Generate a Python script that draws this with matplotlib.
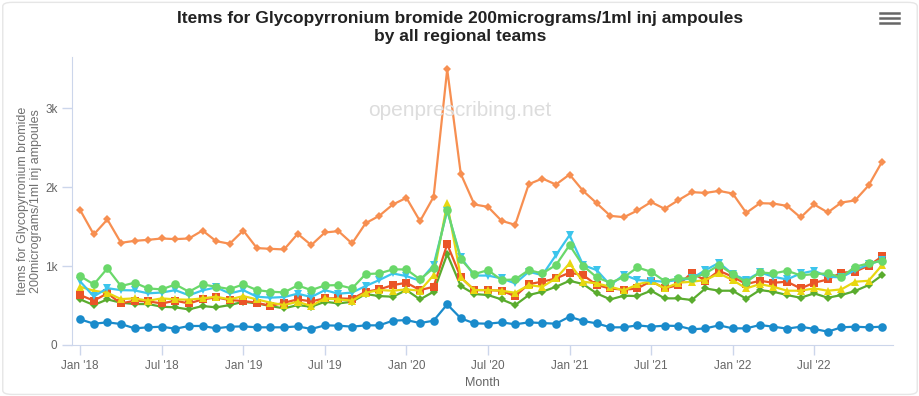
import matplotlib.pyplot as plt
from matplotlib.patches import FancyBboxPatch
import numpy as np

plt.rcParams['font.family'] = ['Liberation Sans', 'DejaVu Sans']

# monthly items, Jan 2018 .. Dec 2022
months = np.arange(60)
tick_pos = np.arange(0, 60, 6)
tick_labels = ["Jan '18", "Jul '18", "Jan '19", "Jul '19", "Jan '20", "Jul '20",
               "Jan '21", "Jul '21", "Jan '22", "Jul '22"]

orange = [1709, 1401, 1591, 1295, 1320, 1333, 1350, 1342, 1350, 1451, 1316, 1283, 1451, 1228, 1219,
          1211, 1409, 1266, 1426, 1443, 1287,
          1544, 1637, 1781, 1865, 1570, 1877, 3494, 2169, 1781, 1751, 1574, 1523, 2038, 2110, 2034,
          2161, 1953, 1797, 1637,
          1620, 1705, 1812, 1726, 1835, 1937, 1928, 1953, 1920, 1675, 1797, 1793, 1763, 1616, 1781,
          1680, 1806, 1832, 2022, 2325]
light_green = [873, 768, 971, 747, 789, 717, 705, 768, 675, 768, 738, 709, 768, 696, 675, 667, 755,
               696, 755, 759, 717,
               899, 907, 958, 958, 831, 975, 1717, 1085, 899, 949, 823, 831, 949, 907, 1013, 1266,
               1004, 857, 789,
               860, 983, 928, 810, 844, 844, 907, 1013, 899, 797, 920, 907, 941, 882, 899, 907, 857,
               992, 1034, 1067]
cyan = [805, 615, 720, 695, 692, 655, 665, 695, 630, 692, 730, 654, 695, 612, 600, 608, 650, 608,
        695, 650, 665,
        747, 823, 907, 873, 814, 1013, 1700, 1110, 880, 880, 844, 781, 928, 886, 1139, 1392, 1013,
        949, 759,
        890, 823, 814, 802, 823, 844, 949, 1042, 899, 823, 920, 865, 831, 907, 941, 865, 857, 949,
        1021, 1076]
yellow = [738, 688, 662, 582, 591, 561, 591, 578, 574, 591, 612, 578, 620, 578, 536, 506, 548, 494,
          591, 578, 561,
          662, 696, 688, 705, 688, 886, 1794, 857, 696, 696, 688, 662, 759, 738, 844, 1034, 802,
          781, 738,
          692, 768, 810, 717, 789, 802, 823, 907, 823, 717, 772, 738, 688, 688, 717, 688, 705, 802,
          814, 1013]
red = [633, 561, 654, 527, 561, 553, 527, 561, 527, 578, 603, 570, 557, 536, 494, 536, 578, 553, 591,
       591, 585,
       675, 705, 759, 789, 696, 738, 1278, 857, 696, 696, 688, 620, 772, 802, 844, 916, 886, 759, 717,
       700, 717, 810, 717, 759, 916, 814, 941, 865, 772, 814, 789, 802, 717, 789, 831, 916, 930, 1005,
       1122]
dark_green = [578, 506, 578, 536, 519, 519, 485, 477, 451, 494, 477, 506, 548, 527, 494, 464, 506,
              485, 548, 527, 548,
              646, 620, 612, 696, 578, 675, 1152, 747, 646, 633, 578, 506, 633, 675, 738, 814, 772,
              654, 578,
              625, 620, 688, 591, 591, 570, 717, 688, 688, 586, 696, 675, 633, 599, 654, 599, 633,
              684, 759, 886]
blue = [325, 270, 287, 266, 211, 224, 232, 206, 241, 241, 211, 232, 236, 224, 224, 224, 236, 203, 249,
        245, 232,
        249, 249, 308, 316, 278, 308, 515, 338, 274, 270, 287, 262, 287, 278, 270, 359, 304, 274, 224,
        224, 249, 232, 245, 241, 198, 211, 249, 211, 211, 253, 232, 207, 232, 203, 169, 224, 232, 224,
        232]

fig = plt.figure(figsize=(9.2, 3.96), dpi=100)
ax = fig.add_axes([0.0783, 0.1288, 0.8924, 0.7272])

# light frame round the chart
fig.patches.append(FancyBboxPatch((0.003, 0.004), 0.994, 0.99, boxstyle='round,pad=0,rounding_size=0.01',
                                  transform=fig.transFigure, fill=False, ec='#e6e6e6', lw=1))

series = [
    (blue, '#1a8bcb', 'o', 6.2),
    (dark_green, '#5aac2e', 'D', 4.2),
    (red, '#ea5427', 's', 5.6),
    (yellow, '#e8d710', '^', 6.2),
    (cyan, '#3cc5ec', 'v', 6.2),
    (light_green, '#6ad86a', 'o', 6.2),
    (orange, '#f78f51', 'D', 4.2),
]
for vals, col, mk, ms in series:
    ax.plot(months, vals, color=col, lw=1.6, marker=mk, ms=ms, mec=col, mew=0)

ax.set_xlim(-0.6, 59.8)
ax.set_ylim(0, 3650)
ax.set_yticks([0, 1000, 2000, 3000])
ax.set_yticklabels(['0', '1k', '2k', '3k'])
ax.set_xticks(tick_pos)
ax.set_xticklabels(tick_labels)

for s in ['top', 'right']:
    ax.spines[s].set_visible(False)
ax.spines['left'].set_color('#ccd6eb')
ax.spines['bottom'].set_color('#ccd6eb')
ax.tick_params(axis='y', colors='#ccd6eb', labelcolor='#666666', labelsize=8.5, length=7, width=1)
ax.tick_params(axis='x', colors='#ccd6eb', labelcolor='#666666', labelsize=8.5, length=7, width=1)

ax.set_xlabel('Month', color='#666666', fontsize=9, labelpad=4)
ax.set_ylabel('Items for Glycopyrronium bromide\n200micrograms/1ml inj ampoules',
              color='#707070', fontsize=9, labelpad=2, linespacing=1.1)

fig.text(0.5, 0.972, 'Items for Glycopyrronium bromide 200micrograms/1ml inj ampoules\nby all regional teams',
         ha='center', va='top', fontsize=12.5, fontweight='bold', color='#222222', linespacing=1.25)

# watermark
fig.text(0.5, 0.722, 'openprescribing.net', ha='center', va='center',
         fontsize=15, color='#dddddd', zorder=0)

# menu icon
for y in [0.968, 0.955, 0.942]:
    fig.add_artist(plt.Line2D([0.957, 0.977], [y, y], color='#666666', lw=1.8,
                              transform=fig.transFigure))

fig.savefig('out.png', dpi=100)
